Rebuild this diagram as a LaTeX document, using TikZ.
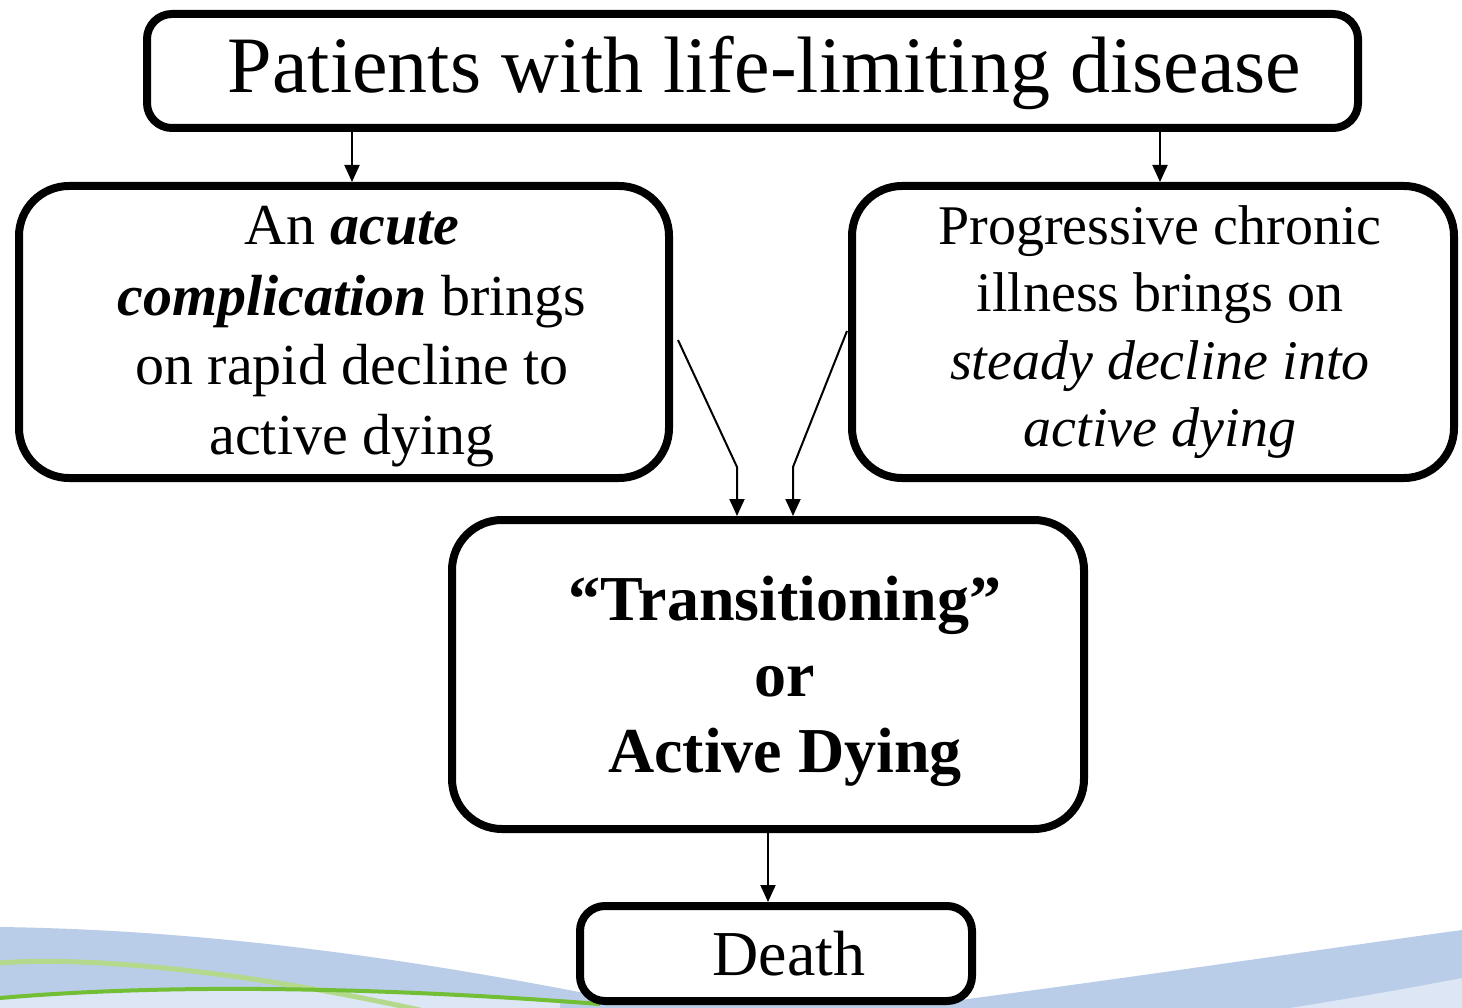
\documentclass[tikz,border=0pt]{standalone}
\usepackage{fontspec}
\setmainfont{Liberation Serif}
\usetikzlibrary{arrows.meta}

\definecolor{waveblue}{HTML}{B9CDE9}
\definecolor{wavepale}{HTML}{DCE6F4}
\definecolor{wavegreen}{HTML}{72BF35}
\definecolor{wavelime}{HTML}{B4D98C}

% move a label down inside its box without changing the box's own size
\newcommand{\dropby}[2]{\raisebox{-#1}[\height][\depth]{#2}}

\begin{document}
\begin{tikzpicture}[x=1pt,y=-1pt,
  box/.style={draw=black, line width=8pt, fill=white, rounded corners=#1,
              align=center, inner sep=0pt},
  box/.default=25pt,
  arr/.style={draw=black, line width=2pt,
              -{Triangle[length=17pt,width=15pt]}}
]
\useasboundingbox (0,0) rectangle (1462,1008);

% decorative waves along the bottom edge
\fill[waveblue] (0,927) .. controls (220,930) and (430,962) .. (620,1000)
  -- (960,1000) .. controls (1150,975) and (1330,948) .. (1462,930)
  -- (1462,1008) -- (0,1008) -- cycle;
\fill[wavepale] (1462,978) .. controls (1400,990) and (1340,1000) .. (1290,1008)
  -- (1462,1008) -- cycle;
\fill[wavepale] (0,998) .. controls (150,985) and (350,985) .. (560,1003)
  -- (560,1008) -- (0,1008) -- cycle;
\draw[wavelime, line width=5pt] (0,963) .. controls (60,958) and (200,962) .. (420,1010);
\draw[wavegreen, line width=4pt] (0,998) .. controls (150,985) and (350,985) .. (600,1004);

% boxes
\node[box, minimum width=1211pt, minimum height=114pt] (top) at (752.5,71)
  {\fontsize{80}{90}\selectfont\dropby{2pt}{\hspace*{24pt}Patients with life-limiting disease}};

\node[box=50pt, minimum width=650pt, minimum height=292pt] (acute) at (344,332)
  {\fontsize{58}{70}\selectfont\dropby{4pt}{\hspace*{16pt}\begin{tabular}{@{}c@{}}
   An \textbf{\textit{acute}}\\
   \textbf{\textit{complication}} brings\\
   on rapid decline to\\
   active dying\end{tabular}}};

\node[box=50pt, minimum width=602pt, minimum height=292pt] (chronic) at (1153,332)
  {\fontsize{56}{67.5}\selectfont\hspace*{14pt}\begin{tabular}{@{}c@{}}
   Progressive chronic\\
   illness brings on\\
   \textit{steady decline into}\\
   \textit{active dying}\end{tabular}};

\node[box=50pt, minimum width=632pt, minimum height=309pt] (dying) at (768,674.5)
  {\fontsize{64}{76}\selectfont\bfseries\dropby{7pt}{\hspace*{34pt}\begin{tabular}{@{}c@{}}
   “Transitioning”\\ or\\ Active Dying\end{tabular}}};

\node[box, minimum width=392pt, minimum height=95pt] (death) at (776,953.5)
  {\fontsize{64}{70}\selectfont\hspace*{26pt}Death};

% connectors
\coordinate (acutebend) at (737,467);
\coordinate (chronicbend) at (793,467);
\draw[arr] (top.south -| 352,0) -- (acute.north -| 352,0);
\draw[arr] (top.south -| 1160,0) -- (chronic.north -| 1160,0);
\draw[arr] ([xshift=5pt,yshift=-8pt]acute.east) -- (acutebend) -- (acutebend |- dying.north);
\draw[arr] ([xshift=-1pt,yshift=1pt]chronic.west) -- (chronicbend) -- (chronicbend |- dying.north);
\draw[arr] (dying.south) -- (dying.south |- death.north);
\end{tikzpicture}
\end{document}
